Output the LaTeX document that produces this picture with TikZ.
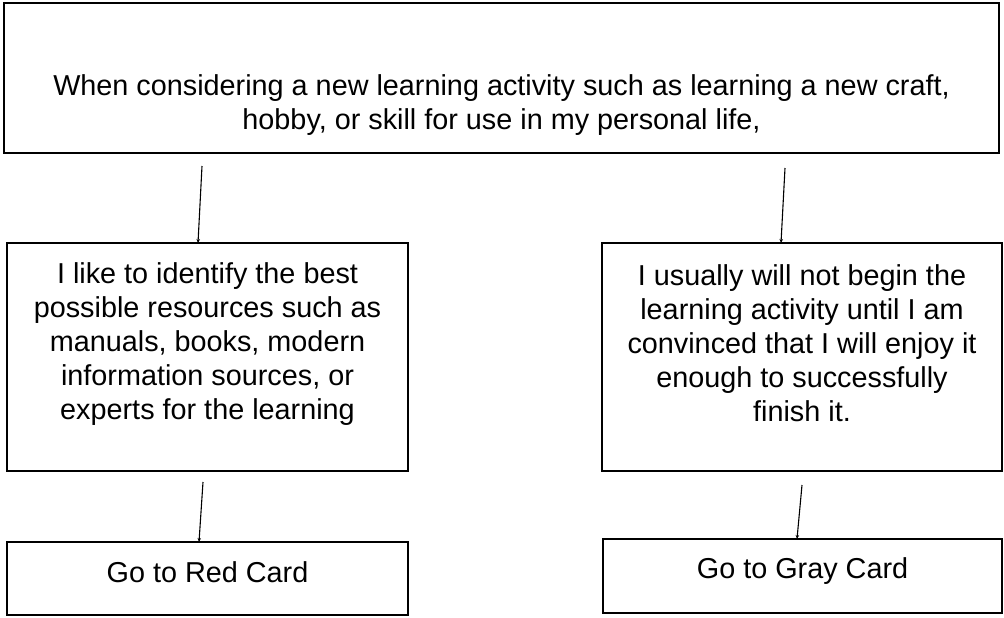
\documentclass[tikz,border=0pt]{standalone}
\usepackage{fontspec}
\setmainfont{Liberation Sans}
\usetikzlibrary{arrows.meta,positioning,calc}

\begin{document}
\begin{tikzpicture}[x=1pt, y=-1pt, every node/.style={font=\fontsize{28.8}{34}\selectfont}]
  % Define styles
  \tikzset{cardbox/.style={draw, line width=2.6pt, inner sep=0pt},
           cardtext/.style={inner sep=0pt, align=center},
           flow/.style={line width=1.1pt, -{Stealth[length=4pt,width=3.5pt]}}}
  \useasboundingbox (0,0) rectangle (1004,618);

  % Draw boxes
  \node[cardbox, minimum width=995pt, minimum height=150pt] (Start) at (501.5,78) {};
  \node[cardbox, minimum width=401pt, minimum height=228pt] (Res) at (207.5,357) {};
  \node[cardbox, minimum width=400pt, minimum height=228pt] (Enjoy) at (802,357) {};
  \node[cardbox, minimum width=401pt, minimum height=73pt] (Red) at (207.5,578.5) {};
  \node[cardbox, minimum width=399pt, minimum height=74pt] (Gray) at (802.5,576) {};

  % Label boxes
  \node[cardtext, anchor=north] (StartT) at ($(Start.north)+(0,73)$)
    {When considering a new learning activity such as learning a new craft,\\
     hobby, or skill for use in my personal life,};
  \node[cardtext, anchor=north] (ResT) at ($(Res.north)+(0,21)$)
    {I like to identify the best\\ possible resources such as\\ manuals, books, modern\\
     information sources, or\\ experts for the learning};
  \node[cardtext, anchor=north] (EnjoyT) at ($(Enjoy.north)+(0,23)$)
    {I usually will not begin the\\ learning activity until I am\\
     convinced that I will enjoy it\\ enough to successfully\\ finish it.};
  \node[cardtext] (RedT) at ($(Red.center)+(0,-6)$) {Go to Red Card};
  \node[cardtext] (GrayT) at ($(Gray.center)+(0,-5)$) {Go to Gray Card};

  % Define arrow ends
  \coordinate (a1) at (202,166);
  \coordinate (b1) at (198,243);
  \coordinate (a2) at (785,168);
  \coordinate (b2) at (781,243);
  \coordinate (a3) at (203,482);
  \coordinate (b3) at (199,542);
  \coordinate (a4) at (802,485);
  \coordinate (b4) at (797,539);

  % Draw arrows
  \foreach \i in {1,...,4}
    \draw[flow] (a\i) -- (b\i);
\end{tikzpicture}
\end{document}
